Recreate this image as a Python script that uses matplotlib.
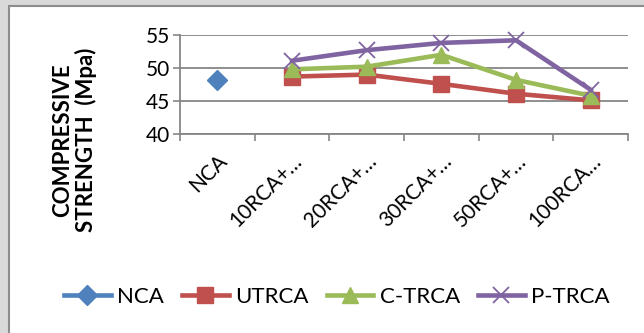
import matplotlib
matplotlib.use("Agg")
import matplotlib.pyplot as plt
from matplotlib.patches import Rectangle
from matplotlib.ticker import FixedLocator, NullFormatter, FixedFormatter

plt.rcParams['font.family'] = ['Lato', 'DejaVu Sans']

# data
categories = ["NCA", "10RCA+\u2026", "20RCA+\u2026", "30RCA+\u2026", "50RCA+\u2026", "100RCA\u2026"]
nca = [48.2]
utrca = [48.7, 49.0, 47.6, 46.1, 45.1]
c_trca = [49.8, 50.2, 52.0, 48.2, 45.8]
p_trca = [51.1, 52.7, 53.8, 54.2, 46.7]

W, H = 644, 333
fig = plt.figure(figsize=(W / 100, H / 100), dpi=100, facecolor="#d9d9d9")

# white chart area with grey frame
fig.patches.append(Rectangle((9 / W, -0.1), 1.2, 1 - 6.5 / H + 0.1, transform=fig.transFigure,
                             facecolor="white", edgecolor="#8c8c8c", linewidth=1.5, zorder=-5))

ax = fig.add_axes([180 / W, 1 - 134 / H, (628 - 180) / W, (134 - 35) / H])
ax.set_facecolor("none")

xs = list(range(len(categories)))
ax.plot(xs[:1], nca, color="#4f81bd", marker="D", markersize=10, linewidth=3.3,
        label="NCA", clip_on=False)
ax.plot(xs[1:], utrca, color="#c0504d", marker="s", markersize=11, linewidth=3.3,
        label="UTRCA", clip_on=False)
ax.plot(xs[1:], c_trca, color="#9bbb59", marker="^", markersize=12, linewidth=3.3,
        label="C-TRCA", clip_on=False)
ax.plot(xs[1:], p_trca, color="#8064a2", marker="x", markersize=11, markeredgewidth=1.3,
        linewidth=3.3, label="P-TRCA", clip_on=False)

ax.set_xlim(-0.5, len(categories) - 0.5)
ax.set_ylim(40, 55)
ax.set_yticks([40, 45, 50, 55])
ax.grid(axis="y", color="#868686", linewidth=1.3)
ax.set_axisbelow(True)

# ticks between categories, labels at centres
ax.xaxis.set_major_locator(FixedLocator([i - 0.5 for i in range(len(categories) + 1)]))
ax.xaxis.set_major_formatter(NullFormatter())
ax.xaxis.set_minor_locator(FixedLocator(xs))
ax.xaxis.set_minor_formatter(FixedFormatter(categories))
ax.tick_params(axis="x", which="major", length=5, color="#868686", width=1.2)
ax.tick_params(axis="x", which="minor", length=0, pad=12, labelsize=15)
for lab in ax.get_xticklabels(minor=True):
    lab.set_rotation(45)
    lab.set_ha("right")
    lab.set_va("top")
    lab.set_rotation_mode("anchor")
ax.tick_params(axis="y", length=5, color="#868686", width=1.2, labelsize=15, pad=2)

for s in ["top", "right"]:
    ax.spines[s].set_visible(False)
ax.spines["left"].set_color("#868686")
ax.spines["left"].set_linewidth(1.3)
ax.spines["bottom"].set_color("#868686")
ax.spines["bottom"].set_linewidth(1.3)

fig.text(75 / W, 1 - 140 / H, "COMPRESSIVE\nSTRENGTH  (Mpa)", rotation=90, ha="center",
         va="center", fontsize=16, fontweight="bold", linespacing=1.1, multialignment="center")

handles, labels = ax.get_legend_handles_labels()
fig.legend(handles, labels, loc="center", bbox_to_anchor=(337 / W, 1 - 297 / H), ncol=4,
           frameon=False, fontsize=16, handlelength=2.1, handletextpad=0.3, columnspacing=0.8)

fig.savefig("out.png", dpi=100, facecolor=fig.get_facecolor())
